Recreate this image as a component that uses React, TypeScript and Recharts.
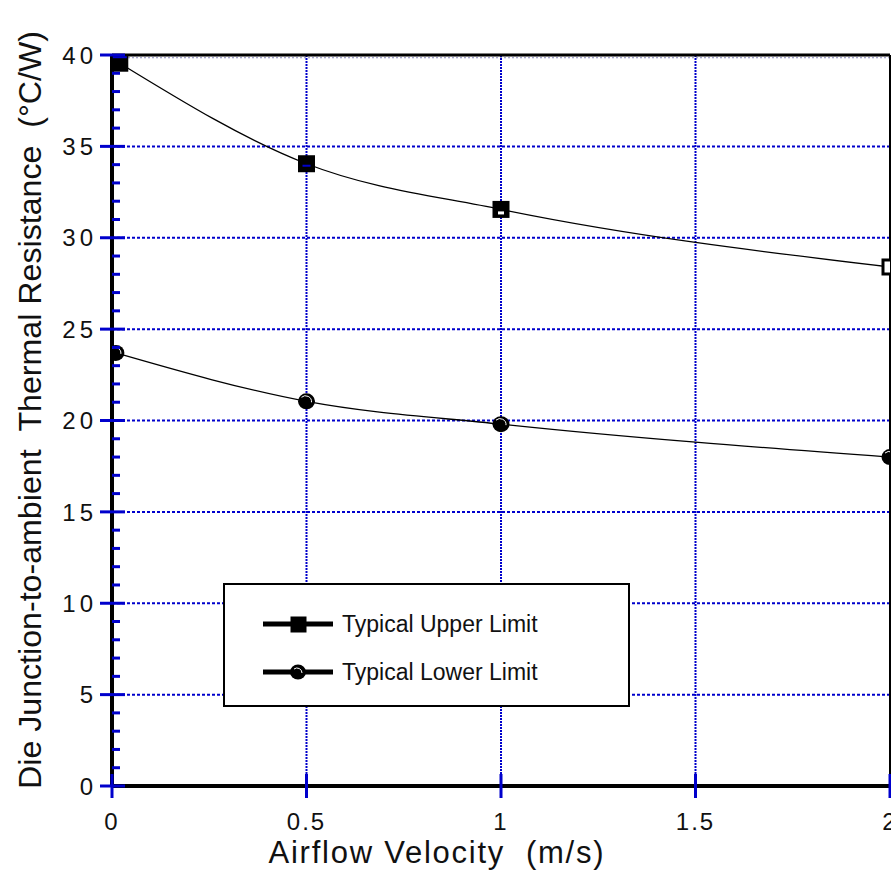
import React from "react";
import { LineChart, Line, XAxis, YAxis, ReferenceLine } from "recharts";

const upperX = [0.02, 0.5, 1, 2];
const upperY = [39.55, 34.05, 31.55, 28.4];
const lowerX = [0.01, 0.5, 1, 2];
const lowerY = [23.7, 21.05, 19.8, 18.0];

const xTicks = [0, 0.5, 1, 1.5, 2];
const yMajor = [0, 5, 10, 15, 20, 25, 30, 35, 40];
const yAll = Array.from({ length: 41 }, (_, i) => i);

const seriesNames = ["Typical Upper Limit", "Typical Lower Limit"];
const xTitle = "Airflow Velocity\u00a0\u00a0(m/s)";
const yTitle = "Die Junction-to-ambient\u00a0\u00a0Thermal Resistance\u00a0\u00a0(°C/W)";

const upperData = upperX.map((x, i) => ({ x, y: upperY[i] }));
const lowerData = lowerX.map((x, i) => ({ x, y: lowerY[i] }));

const BLUE = "#0000cc";
const FONT = "'Liberation Sans', Arial, sans-serif";

const LeftTick = (props: any) => {
  const { x, y, payload } = props;
  const v = payload.value;
  const major = v % 5 === 0;
  return (
    <g>
      <line
        x1={major ? x - 12 : x}
        x2={major ? x + 13 : x + 8}
        y1={y}
        y2={y}
        stroke={BLUE}
        strokeWidth={3}
      />
      {major && (
        <text
          x={x - 15}
          y={y}
          dy="0.36em"
          textAnchor="end"
          fontFamily={FONT}
          fontSize={24}
          letterSpacing={4}
          fill="#111"
        >
          {v}
        </text>
      )}
    </g>
  );
};

const RightTick = (props: any) => {
  const { x, y, payload } = props;
  const major = payload.value % 5 === 0;
  return (
    <line
      x1={major ? x - 13 : x - 7}
      x2={x}
      y1={y}
      y2={y}
      stroke={BLUE}
      strokeWidth={3}
    />
  );
};

const BottomTick = (props: any) => {
  const { x, y, payload } = props;
  return (
    <g>
      <line x1={x} x2={x} y1={y - 12} y2={y + 12} stroke={BLUE} strokeWidth={3} />
      <text
        x={x}
        y={y + 44}
        textAnchor="middle"
        fontFamily={FONT}
        fontSize={24}
        letterSpacing={2}
        fill="#111"
      >
        {payload.value}
      </text>
    </g>
  );
};

const TopTick = (props: any) => {
  const { x, y } = props;
  return <line x1={x} x2={x} y1={y - 12} y2={y} stroke={BLUE} strokeWidth={2} />;
};

const SquareDot = (props: any) => {
  const { cx, cy, index } = props;
  if (cx == null || cy == null) return <g key={`s${index}`} />;
  return (
    <g key={`s${index}`}>
      <rect
        x={cx - 7}
        y={cy - 7}
        width={14}
        height={14}
        fill={index === 3 ? "#fff" : "#000"}
        stroke="#000"
        strokeWidth={3}
      />
      {index === 1 && <line x1={cx - 4} x2={cx + 4} y1={cy + 2} y2={cy + 2} stroke={BLUE} strokeWidth={2} />}
      {index === 0 && <rect x={cx - 7} y={cy - 7} width={14} height={2} fill={BLUE} />}
      {index === 2 && <rect x={cx - 3} y={cy + 2} width={6} height={3} fill="#fff" />}
    </g>
  );
};

const CircleDot = (props: any) => {
  const { cx, cy, index } = props;
  if (cx == null || cy == null) return <g key={`c${index}`} />;
  return (
    <g key={`c${index}`}>
      <ellipse cx={cx} cy={cy} rx={8.5} ry={8} fill="#000" />
      <path
        d={`M ${cx - 5} ${cy - 4} A 6 6 0 0 1 ${cx + 5} ${cy + 1}`}
        fill="none"
        stroke="#fff"
        strokeWidth={1}
      />
    </g>
  );
};

const YLabel = () => (
  <text
    transform="translate(41, 410) rotate(-90)"
    textAnchor="middle"
    fontFamily={FONT}
    fontSize={32}
    textLength={758}
    lengthAdjust="spacingAndGlyphs"
    fill="#111"
  >
    {yTitle}
  </text>
);

const XLabel = () => (
  <text
    x={436}
    y={863}
    textAnchor="middle"
    fontFamily={FONT}
    fontSize={31}
    textLength={335}
    lengthAdjust="spacing"
    fill="#111"
  >
    {xTitle}
  </text>
);

const LegendBox = () => (
  <div
    style={{
      position: "absolute",
      left: 223,
      top: 583,
      width: 403,
      height: 120,
      border: "2px solid #000",
      background: "#fff",
      fontFamily: FONT,
    }}
  >
    {seriesNames.map((name, i) => (
      <div
        key={name}
        style={{
          position: "absolute",
          left: 0,
          top: i === 0 ? 21 : 69,
          height: 36,
          display: "flex",
          alignItems: "center",
        }}
      >
        <svg width={120} height={36} style={{ display: "block" }}>
          <line x1={38} x2={108} y1={18} y2={18} stroke="#000" strokeWidth={5} />
          {i === 0 ? (
            <rect x={66} y={11} width={15} height={15} fill="#000" stroke="#000" />
          ) : (
            <g>
              <ellipse cx={73} cy={18} rx={8} ry={7.5} fill="#000" />
              <path d="M 69 15 A 5 5 0 0 1 77 19" fill="none" stroke="#fff" strokeWidth={1} />
            </g>
          )}
        </svg>
        <span style={{ fontSize: 23, color: "#111", marginLeft: -3 }}>{name}</span>
      </div>
    ))}
  </div>
);

export default function App() {
  return (
    <div style={{ position: "absolute", left: 0, top: 0, width: 891, height: 886, background: "#fff" }}>
      <LineChart width={891} height={886} margin={{ top: 0, right: 0, bottom: 0, left: 0 }}>
        <XAxis
          dataKey="x"
          type="number"
          domain={[0, 2]}
          ticks={xTicks}
          interval={0}
          height={100}
          tickSize={0}
          tickMargin={0}
          tickLine={false}
          axisLine={{ stroke: "#000", strokeWidth: 4 }}
          tick={<BottomTick />}
          allowDataOverflow
          label={<XLabel />}
        />
        <XAxis
          xAxisId="top"
          orientation="top"
          dataKey="x"
          type="number"
          domain={[0, 2]}
          ticks={xTicks}
          interval={0}
          height={55}
          tickSize={0}
          tickMargin={0}
          tickLine={false}
          axisLine={{ stroke: "#000", strokeWidth: 3 }}
          tick={<TopTick />}
        />
        <YAxis
          type="number"
          domain={[0, 40]}
          ticks={yAll}
          interval={0}
          width={112}
          tickSize={0}
          tickMargin={0}
          tickLine={false}
          axisLine={{ stroke: "#000", strokeWidth: 4 }}
          tick={<LeftTick />}
          allowDataOverflow
          label={<YLabel />}
        />
        <YAxis
          yAxisId="right"
          orientation="right"
          type="number"
          domain={[0, 40]}
          ticks={yAll}
          interval={0}
          width={1}
          tickSize={0}
          tickMargin={0}
          tickLine={false}
          axisLine={{ stroke: "#000", strokeWidth: 2 }}
          tick={<RightTick />}
        />
        {yMajor.filter((v) => v > 0 && v < 40).map((v) => (
          <ReferenceLine key={`h${v}`} y={v} stroke={BLUE} strokeWidth={2} strokeDasharray="3 2" />
        ))}
        <ReferenceLine y={39.85} stroke="#8888bb" strokeWidth={1} strokeDasharray="2 2" />
        {xTicks.filter((v) => v > 0 && v < 2).map((v) => (
          <ReferenceLine key={`v${v}`} x={v} stroke={BLUE} strokeWidth={2} strokeDasharray="2 1" />
        ))}
        <Line
          data={upperData}
          dataKey="y"
          type="monotone"
          stroke="#000"
          strokeWidth={1.3}
          dot={SquareDot}
          activeDot={false}
          isAnimationActive={false}
          name={seriesNames[0]}
        />
        <Line
          data={lowerData}
          dataKey="y"
          type="monotone"
          stroke="#000"
          strokeWidth={1.3}
          dot={CircleDot}
          activeDot={false}
          isAnimationActive={false}
          name={seriesNames[1]}
        />
      </LineChart>
      <LegendBox />
    </div>
  );
}
